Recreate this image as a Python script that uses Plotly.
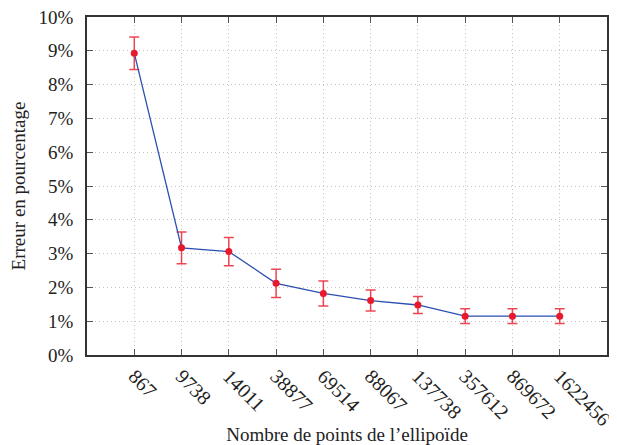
import plotly.graph_objects as go

categories = ["867", "9738", "14011", "38877", "69514", "88067", "137738", "357612", "869672", "1622456"]
erreur = [8.93, 3.17, 3.06, 2.12, 1.82, 1.61, 1.48, 1.15, 1.15, 1.15]
ecart = [0.48, 0.47, 0.42, 0.42, 0.37, 0.31, 0.25, 0.22, 0.22, 0.22]
y_ticks = [0, 1, 2, 3, 4, 5, 6, 7, 8, 9, 10]
y_labels = [f"{v}%" for v in y_ticks]

FONT = "Liberation Serif"

fig = go.Figure()
fig.add_trace(go.Scatter(
    x=categories, y=erreur,
    mode="lines+markers",
    line=dict(color="#2a4fb0", width=1.3),
    marker=dict(color="#e8192c", size=7),
    error_y=dict(type="data", array=ecart, visible=True,
                 color="rgba(232,25,44,0.8)", thickness=1.5, width=5),
    showlegend=False,
))

axis_common = dict(
    showline=True, linecolor="#333333", linewidth=1.5, mirror="ticks",
    ticks="inside", ticklen=6, tickcolor="#555555",
    showgrid=True, gridcolor="#c4c4c4", griddash="1px,3px", gridwidth=1.2,
    zeroline=False, automargin=False, ticklabeloverflow="allow",
)

# the page body has an 8px margin, so the figure is sized/offset to compensate
fig.update_layout(
    width=609, height=437,
    margin=dict(l=79, r=10, t=9, b=90),
    paper_bgcolor="white", plot_bgcolor="white",
    font=dict(family=FONT, size=18, color="#222222"),
    xaxis=dict(
        type="category", range=[-1, 10], tickangle=45,
        tickfont=dict(family=FONT, size=20, color="#222222"),
        title=dict(text="Nombre de points de l’ellipoïde", font=dict(family=FONT, size=19), standoff=0),
        **axis_common,
    ),
    yaxis=dict(
        range=[0, 10], tickvals=y_ticks, ticktext=y_labels,
        tickfont=dict(family=FONT, size=19, color="#222222"),
        ticklabelstandoff=8,
        title=dict(text="Erreur en pourcentage", font=dict(family=FONT, size=19), standoff=14),
        **axis_common,
    ),
)

fig.write_html("out.html")
